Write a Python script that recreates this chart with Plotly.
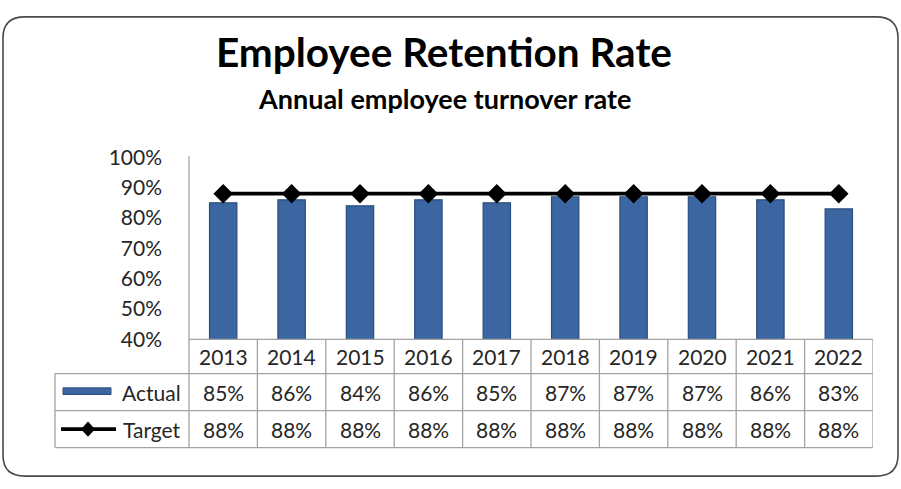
import plotly.graph_objects as go

# ---- data ----
years = ["2013", "2014", "2015", "2016", "2017", "2018", "2019", "2020", "2021", "2022"]
actual = [0.85, 0.86, 0.84, 0.86, 0.85, 0.87, 0.87, 0.87, 0.86, 0.83]
target = [0.88, 0.88, 0.88, 0.88, 0.88, 0.88, 0.88, 0.88, 0.88, 0.88]
series_names = ["Actual", "Target"]

W, H = 901, 489
FONT = "Lato, Calibri, Carlito, sans-serif"
BAR_BLUE = "#3B66A1"
BAR_EDGE = "#2A4C7E"
GRID = "#A3A3A3"


def px(x):
    return x / W


def py(y):
    return 1 - y / H


# plot area in pixels
X0, X1 = 189, 873
Y_TOP, Y_BOT = 151, 343
# table rows (pixel y)
ROW_Y = [343, 379, 418, 457]
TABLE_LEFT = 55

fig = go.Figure()

fig.add_trace(go.Bar(
    x=years, y=actual, name=series_names[0],
    width=0.4,
    marker=dict(color=BAR_BLUE, line=dict(color=BAR_EDGE, width=1.2)),
    showlegend=False,
))
fig.add_trace(go.Scatter(
    x=years, y=target, name=series_names[1], mode="lines+markers",
    line=dict(color="black", width=3.8),
    marker=dict(symbol="diamond", size=15, color="black"),
    showlegend=False,
))

shapes = []
annotations = []

# outer rounded frame
r = 22
x_l, x_r, y_t, y_b = 3, 898, 3, 487
path = (
    f"M {px(x_l + r)},{py(y_t)} L {px(x_r - r)},{py(y_t)} "
    f"Q {px(x_r)},{py(y_t)} {px(x_r)},{py(y_t + r)} "
    f"L {px(x_r)},{py(y_b - r)} Q {px(x_r)},{py(y_b)} {px(x_r - r)},{py(y_b)} "
    f"L {px(x_l + r)},{py(y_b)} Q {px(x_l)},{py(y_b)} {px(x_l)},{py(y_b - r)} "
    f"L {px(x_l)},{py(y_t + r)} Q {px(x_l)},{py(y_t)} {px(x_l + r)},{py(y_t)} Z"
)
shapes.append(dict(type="path", xref="paper", yref="paper", path=path,
                   line=dict(color="#4A4A4A", width=1.6), layer="below"))

# data table grid: horizontal rules
for i, yy in enumerate(ROW_Y):
    left = X0 if i == 0 else TABLE_LEFT
    shapes.append(dict(type="line", xref="paper", yref="paper",
                       x0=px(left), x1=px(X1), y0=py(yy), y1=py(yy),
                       line=dict(color=GRID, width=1.3)))
# vertical rules between year columns
for i in range(1, len(years) + 1):
    shapes.append(dict(type="line", xref="x", yref="paper",
                       x0=i - 0.5, x1=i - 0.5, y0=py(ROW_Y[0]), y1=py(ROW_Y[-1]),
                       line=dict(color=GRID, width=1.3)))
# left edges
shapes.append(dict(type="line", xref="paper", yref="paper",
                   x0=px(X0), x1=px(X0), y0=py(Y_TOP - 1), y1=py(ROW_Y[-1]),
                   line=dict(color=GRID, width=1.3)))
shapes.append(dict(type="line", xref="paper", yref="paper",
                   x0=px(TABLE_LEFT), x1=px(TABLE_LEFT), y0=py(ROW_Y[1]), y1=py(ROW_Y[-1]),
                   line=dict(color=GRID, width=1.3)))

# legend keys in the row headers
shapes.append(dict(type="rect", xref="paper", yref="paper",
                   x0=px(63), x1=px(111), y0=py(394), y1=py(401),
                   fillcolor=BAR_BLUE, line=dict(color=BAR_EDGE, width=1)))
ky = (ROW_Y[2] + ROW_Y[3]) / 2
shapes.append(dict(type="line", xref="paper", yref="paper",
                   x0=px(61), x1=px(116), y0=py(ky), y1=py(ky),
                   line=dict(color="black", width=3.8)))
cx = 88
shapes.append(dict(type="path", xref="paper", yref="paper",
                   path=f"M {px(cx - 7)},{py(ky)} L {px(cx)},{py(ky - 8)} "
                        f"L {px(cx + 7)},{py(ky)} L {px(cx)},{py(ky + 8)} Z",
                   fillcolor="black", line=dict(color="black", width=0)))

TXT = dict(family=FONT, size=21, color="#262626")

# row header labels
for name, r0, r1 in [(series_names[0], ROW_Y[1], ROW_Y[2]), (series_names[1], ROW_Y[2], ROW_Y[3])]:
    annotations.append(dict(xref="paper", yref="paper", x=px(183), y=py((r0 + r1) / 2),
                            text=name, showarrow=False, xanchor="right", yanchor="middle",
                            font=TXT))

# table cells (category index on the x axis)
for i, yr in enumerate(years):
    annotations.append(dict(xref="x", yref="paper", x=i, y=py((ROW_Y[0] + ROW_Y[1]) / 2),
                            text=yr, showarrow=False, yanchor="middle", font=TXT))
    annotations.append(dict(xref="x", yref="paper", x=i, y=py((ROW_Y[1] + ROW_Y[2]) / 2),
                            text=f"{actual[i]:.0%}", showarrow=False, yanchor="middle", font=TXT))
    annotations.append(dict(xref="x", yref="paper", x=i, y=py((ROW_Y[2] + ROW_Y[3]) / 2),
                            text=f"{target[i]:.0%}", showarrow=False, yanchor="middle", font=TXT))

# titles
annotations.append(dict(xref="paper", yref="paper", x=px(444), y=py(39),
                        text="<b>Employee Retention Rate</b>", showarrow=False,
                        xanchor="center", yanchor="middle",
                        font=dict(family=FONT, size=40.5, color="black")))
annotations.append(dict(xref="paper", yref="paper", x=px(444), y=py(89),
                        text="<b>Annual employee turnover rate</b>", showarrow=False,
                        xanchor="center", yanchor="middle",
                        font=dict(family=FONT, size=27, color="black")))

fig.update_layout(
    width=W, height=H,
    margin=dict(l=0, r=0, t=0, b=0),
    paper_bgcolor="white", plot_bgcolor="white",
    bargap=0.6,
    xaxis=dict(domain=[px(X0), px(X1)], type="category", range=[-0.5, 9.5],
               showticklabels=False, showgrid=False, zeroline=False, showline=False,
               ticks=""),
    yaxis=dict(domain=[py(Y_BOT), py(Y_TOP)], range=[0.4, 1.0], dtick=0.1,
               tickformat=".0%", showgrid=False, zeroline=False, showline=False,
               ticks="", ticklabelstandoff=26,
               tickfont=dict(family=FONT, size=21, color="#262626")),
    shapes=shapes,
    annotations=annotations,
)

fig.write_html("out.html")
